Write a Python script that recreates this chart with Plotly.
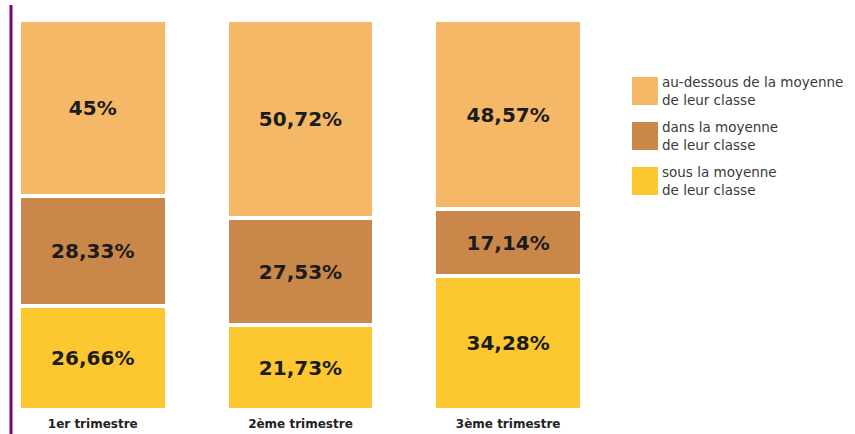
import plotly.graph_objects as go

categories = ["1er trimestre", "2ème trimestre", "3ème trimestre"]
series_names = [
    "sous la moyenne<br>de leur classe",
    "dans la moyenne<br>de leur classe",
    "au-dessous de la moyenne<br>de leur classe",
]
sous = [26.66, 21.73, 34.28]
dans = [28.33, 27.53, 17.14]
audessous = [45.00, 50.72, 48.57]
labels_sous = ["26,66%", "21,73%", "34,28%"]
labels_dans = ["28,33%", "27,53%", "17,14%"]
labels_audessous = ["45%", "50,72%", "48,57%"]

colors = ["#FDC82F", "#C9884A", "#F5B866"]

W, H = 855, 434
ML, MR, MT, MB = 18, 243, 20, 24
PW, PH = W - ML - MR, H - MT - MB


def px_x(x):
    return (x - ML) / PW


def px_y(y):
    return (H - MB - y) / PH


fig = go.Figure()
for vals, txt, name, col in zip([sous, dans, audessous],
                                [labels_sous, labels_dans, labels_audessous],
                                series_names, colors):
    fig.add_trace(go.Bar(
        x=categories, y=vals, name=name, text=txt,
        marker=dict(color=col, line=dict(color="white", width=4)),
        textposition="inside", insidetextanchor="middle", textangle=0,
        constraintext="none",
        textfont=dict(family="DejaVu Sans", size=20, color="#1c1c1c", weight="bold"),
        hoverinfo="skip", showlegend=False,
    ))

# purple vertical rule on the left
fig.add_shape(type="line", xref="paper", yref="paper",
              x0=px_x(11), x1=px_x(11), y0=px_y(436), y1=px_y(5),
              line=dict(color="#800080", width=3))

# manual legend (top to bottom: au-dessous, dans, sous)
legend_tops = [77, 122, 167]
for top, name, col in zip(legend_tops, series_names[::-1], colors[::-1]):
    fig.add_shape(type="rect", xref="paper", yref="paper",
                  x0=px_x(632), x1=px_x(658), y0=px_y(top + 28), y1=px_y(top),
                  fillcolor=col, line=dict(width=0))
    fig.add_annotation(xref="paper", yref="paper", x=px_x(660), y=px_y(top + 14),
                       text=name, showarrow=False, xanchor="left", yanchor="middle",
                       align="left",
                       font=dict(family="DejaVu Sans", size=13.5, color="#3a3a3a"))

fig.update_layout(
    width=W, height=H, barmode="stack", bargap=0.29,
    margin=dict(l=ML, r=MR, t=MT, b=MB, autoexpand=False),
    paper_bgcolor="white", plot_bgcolor="white",
    xaxis=dict(range=[-0.36, 2.5], showgrid=False, zeroline=False, showline=False,
               ticks="", ticklabelstandoff=5, automargin=False,
               tickfont=dict(family="DejaVu Sans", size=12, color="#222222",
                             weight="bold")),
    yaxis=dict(range=[0, 100], showgrid=False, zeroline=False, showline=False,
               showticklabels=False, ticks="", automargin=False),
    showlegend=False,
)

fig.write_html("out.html", config={"displayModeBar": False},
               post_script="document.body.style.margin='0';document.body.style.padding='0';")
